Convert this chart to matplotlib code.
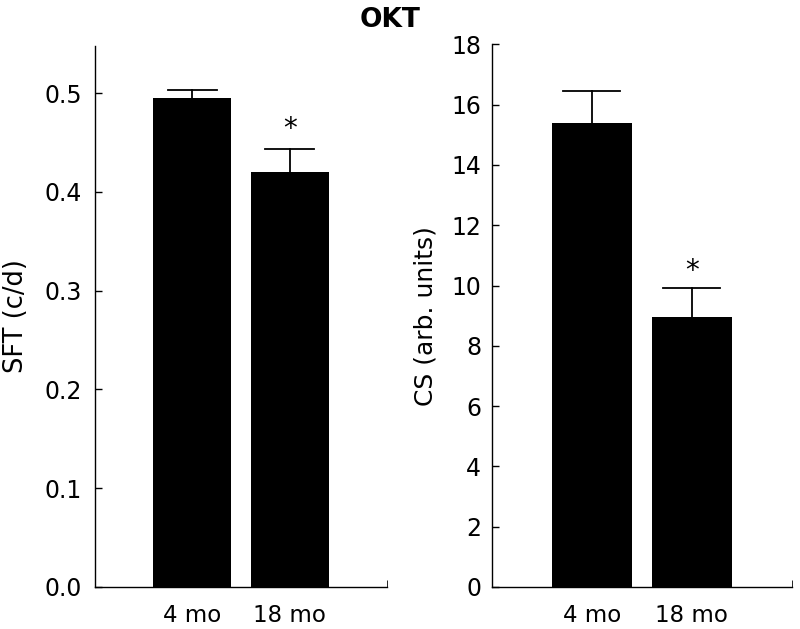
import matplotlib
matplotlib.use("Agg")
import matplotlib.pyplot as plt
import numpy as np

plt.rcParams['font.family'] = ['DejaVu Sans']

categories = ["4 mo", "18 mo"]
sft_values = [0.495, 0.420]
sft_errors = [0.008, 0.023]
cs_values = [15.40, 8.94]
cs_errors = [1.06, 0.98]
sig = [False, True]

fig = plt.figure(figsize=(8, 6.29), dpi=100)
ax1 = fig.add_axes([95/800, 1-587/629, 292/800, (587-46)/629])
ax2 = fig.add_axes([491.7/800, 1-587/629, 300/800, (587-44.3)/629])

def draw(ax, vals, errs, ylim, yticks, ylabel, fmt, capw, star_off, ypad, lsize):
    x = np.arange(len(categories))
    ax.bar(x, vals, width=0.8, color='black', zorder=2)
    for xi, v, e in zip(x, vals, errs):
        ax.plot([xi, xi], [v, v+e], color='black', lw=1.3, zorder=1)
        ax.plot([xi-capw/2, xi+capw/2], [v+e, v+e], color='black', lw=1.3, zorder=1)
    for xi, v, e, s in zip(x, vals, errs, sig):
        if s:
            ax.text(xi, v+e+star_off, '*', ha='center', va='center', fontsize=20)
    ax.set_xlim(-1, 2)
    ax.set_ylim(*ylim)
    ax.set_yticks(yticks)
    ax.set_yticklabels([fmt.format(t) for t in yticks], fontsize=17)
    ax.set_xticks(x)
    ax.set_xticklabels(categories, fontsize=16.5)
    ax.tick_params(axis='x', length=0, pad=12)
    ax.tick_params(axis='y', direction='in', length=5, width=1, pad=ypad)
    ax.set_xticks([2], minor=True)
    ax.tick_params(axis='x', which='minor', direction='in', length=5)
    for sp in ['top', 'right']:
        ax.spines[sp].set_visible(False)
    for sp in ['left', 'bottom']:
        ax.spines[sp].set_linewidth(1.0)
    ax.set_ylabel(ylabel, fontsize=lsize)

draw(ax1, sft_values, sft_errors, (0, 0.5476), [0.0, 0.1, 0.2, 0.3, 0.4, 0.5], 'SFT (c/d)', '{:.1f}', 0.5, 0.021, 9.4, 18.5)
draw(ax2, cs_values, cs_errors, (0, 18), list(range(0, 19, 2)), 'CS (arb. units)', '{:d}', 0.57, 0.55, 7.7, 18)
ax1.yaxis.set_label_coords(-0.225, 0.5)
ax2.yaxis.set_label_coords(-0.179, 0.5)

fig.text(390.5/800, 1-20/629, 'OKT', ha='center', va='center', fontsize=19, fontweight='bold')

fig.savefig('out.png', dpi=100)
